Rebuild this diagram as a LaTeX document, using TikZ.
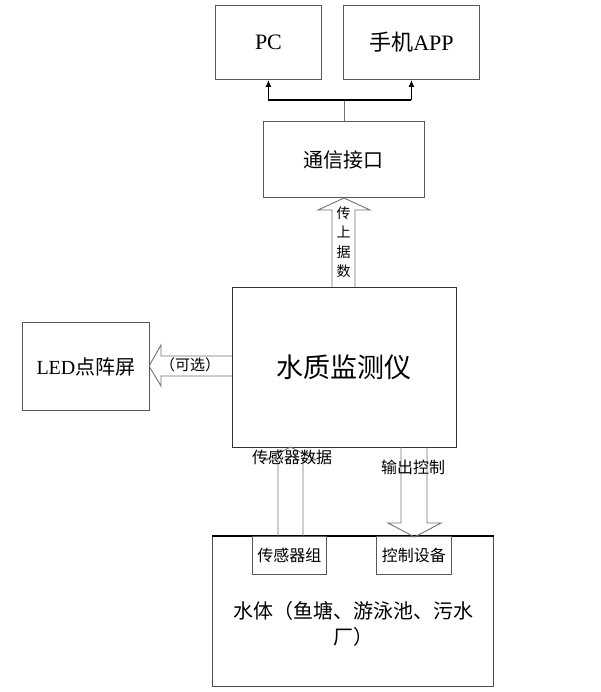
\documentclass[tikz,border=0pt]{standalone}
\usepackage{fontspec}
\setmainfont{Liberation Serif}
\newfontfamily\cjk{Noto Sans CJK SC}
\usetikzlibrary{arrows.meta}
\begin{document}
\begin{tikzpicture}[x=1pt,y=-1pt,
  box/.style={draw=black!65,line width=0.9pt,fill=white,inner sep=0pt,anchor=north west},
  hollow/.style={draw=black!55,line width=0.9pt,fill=white},
  thinline/.style={draw=black!55,line width=0.9pt},
  bus/.style={draw=black,line width=1.6pt},
  lbl/.style={inner sep=0pt,font=\cjk\fontsize{16}{19}\selectfont}]
\useasboundingbox (0,0) rectangle (600,692);

% top boxes
\node[box,minimum width=106pt,minimum height=74pt,font=\fontsize{22}{26}\selectfont] (pc) at (215,5) {PC};
\node[box,minimum width=136pt,minimum height=74pt,font=\fontsize{22}{26}\selectfont] (app) at (343,5) {{\cjk 手机}APP};
\node[box,minimum width=161pt,minimum height=76pt,font=\cjk\fontsize{20}{24}\selectfont] (comm) at (263,121) {通信接口};

% bus from comm to PC / APP
\draw[thinline] (comm.north) -- (comm.north |- 0,100) coordinate (j);
\draw[bus] (pc.south |- j) -- (app.south |- j);
\draw[bus,-{Latex[length=7pt,width=6pt]}] (pc.south |- j) -- (pc.south);
\draw[bus,-{Latex[length=7pt,width=6pt]}] (app.south |- j) -- (app.south);

% upload hollow arrow
\draw[hollow] (332,288) -- (332,210) -- (318,210) -- (344,198) -- (370,210) -- (355,210) -- (355,288);
\node[inner sep=0pt,align=center,font=\cjk\fontsize{14}{19.5}\selectfont] (up) at (343.5,242) {传\\上\\据\\数};

% optional hollow arrow to LED
\draw[hollow] (233,356) -- (161,356) -- (161,345) -- (149,366) -- (161,386) -- (161,376) -- (233,376);
\node[inner sep=0pt,font=\cjk\fontsize{15}{18}\selectfont] (opt) at (190,365) {（可选）};

% main box
\node[box,draw=black!80,minimum width=224pt,minimum height=160pt,font=\cjk\fontsize{27}{32}\selectfont] (main) at (232,287) {水质监测仪};

% LED box
\node[box,minimum width=127pt,minimum height=88pt,font=\fontsize{20}{24}\selectfont] (led) at (22,322) {LED{\cjk 点阵屏}};

% water body
\node[box,draw=black!70,minimum width=281pt,minimum height=150pt] (water) at (212,536) {};
\draw[draw=black,line width=1.6pt] (water.north west) -- (water.north east);
\node[inner sep=0pt,align=center,font=\cjk\fontsize{20}{26}\selectfont] (wtext) at (353,624) {水体（鱼塘、游泳池、污水\\厂）};

\node[box,minimum width=74pt,minimum height=38pt,font=\cjk\fontsize{16}{19}\selectfont] (sens) at (252,536) {传感器组};
\node[box,minimum width=75pt,minimum height=38pt,font=\cjk\fontsize{16}{19}\selectfont] (ctrl) at (376,536) {控制设备};

% sensor data arrow (up)
\draw[hollow,fill=none] (278,536) -- (278,460) -- (265,460) -- (290.5,447) -- (316,460) -- (303,460) -- (303,536);
\node[lbl] (sdata) at (292,457) {传感器数据};

% output control arrow (down)
\draw[hollow,fill=none] (401,447) -- (401,523) -- (388,523) -- (414.5,537) -- (441,523) -- (427,523) -- (427,447);
\node[lbl] (octrl) at (413,467) {输出控制};
\end{tikzpicture}
\end{document}
